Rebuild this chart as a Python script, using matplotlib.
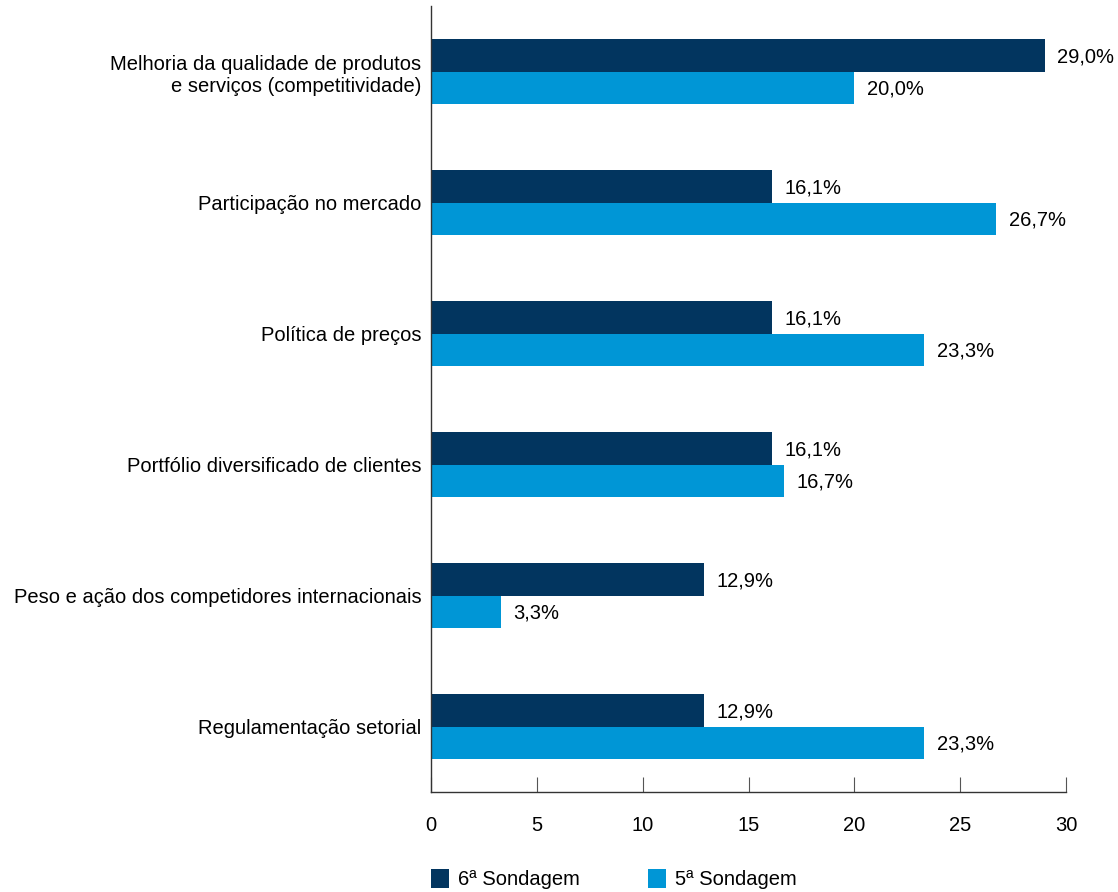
import matplotlib
matplotlib.use("Agg")
import matplotlib.pyplot as plt
from matplotlib.patches import Patch
import numpy as np

categories = [
    "Melhoria da qualidade de produtos\ne serviços (competitividade)",
    "Participação no mercado",
    "Política de preços",
    "Portfólio diversificado de clientes",
    "Peso e ação dos competidores internacionais",
    "Regulamentação setorial",
]
sond6 = [29.0, 16.1, 16.1, 16.1, 12.9, 12.9]
sond5 = [20.0, 26.7, 23.3, 16.7, 3.3, 23.3]
series_names = ["6ª Sondagem", "5ª Sondagem"]
xticks = [0, 5, 10, 15, 20, 25, 30]

dark = "#02355F"
light = "#0096D6"

plt.rcParams['font.family'] = ['Liberation Sans', 'DejaVu Sans']
FS = 14.5

fig = plt.figure(figsize=(11.18, 8.92), dpi=100)
ax = fig.add_axes([431/1118, 100/892, (1066-431)/1118, (792-6)/892])

n = len(categories)
y = np.arange(n)
h = 0.25
ax.barh(y - h/2, sond6, height=h, color=dark)
ax.barh(y + h/2, sond5, height=h, color=light)

def fmt(v):
    return f"{v:.1f}".replace('.', ',') + '%'

for yi, v in zip(y, sond6):
    ax.annotate(fmt(v), (v, yi - h/2), xytext=(9, -1), textcoords='offset points',
                ha='left', va='center', fontsize=FS)
for yi, v in zip(y, sond5):
    ax.annotate(fmt(v), (v, yi + h/2), xytext=(9, -1), textcoords='offset points',
                ha='left', va='center', fontsize=FS)

ax.set_ylim(n - 0.5, -0.5)
ax.set_xlim(0, 30)
ax.set_yticks(y)
ax.set_yticklabels(categories, fontsize=FS, ha='right')
ax.tick_params(axis='y', length=0, pad=7)
ax.set_xticks(xticks)
ax.set_xticklabels([str(t) for t in xticks], fontsize=FS)
ax.tick_params(axis='x', direction='in', length=11, pad=17, color='#555555')

for s in ['top', 'right']:
    ax.spines[s].set_visible(False)
for s in ['left', 'bottom']:
    ax.spines[s].set_color('#333333')
    ax.spines[s].set_linewidth(1.0)

handles = [Patch(facecolor=dark), Patch(facecolor=light)]
fig.legend(handles, series_names, loc='center left', bbox_to_anchor=(425/1118, 13/892),
           ncol=2, frameon=False, fontsize=FS, handlelength=0.9, handleheight=1.05,
           handletextpad=0.45, columnspacing=3.35, borderaxespad=0, borderpad=0.3)

fig.savefig("out.png", dpi=100)
